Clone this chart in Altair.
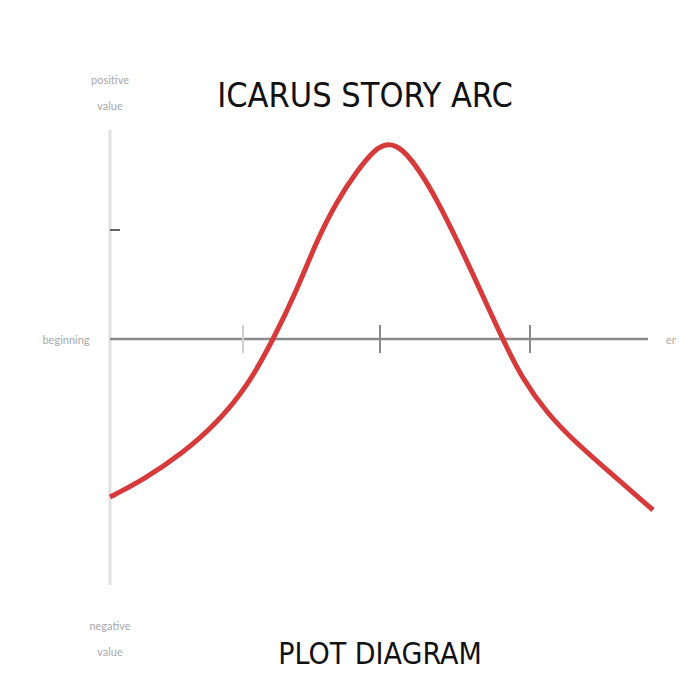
import altair as alt
import pandas as pd

# Curve (x: distance from vertical axis, y: height above the horizontal axis)
curve_x = [0, 33, 73, 107, 137, 163, 187, 207, 227, 247, 265, 278, 292, 310, 327, 347, 367, 393, 413, 437, 463, 497, 543]
curve_y = [-158, -141, -114, -84, -48, -1, 49, 99, 138, 168, 190, 196, 191, 168, 139, 99, 56, -1, -41, -74, -101, -131, -171]

# Axis ticks
xtick_pos = [133, 270, 420]
xtick_col = ["#d0d0d0", "#8a8a8a", "#8a8a8a"]
ytick_pos = [109]

# Text annotations
label_text = ["positive\nvalue", "negative\nvalue", "beginning", "end"]
label_x = [0, 0, -44, 556]
label_y = [258, -288, -2, -2]
label_align = ["center", "center", "center", "left"]

title_text = ["ICARUS STORY ARC", "PLOT DIAGRAM"]
title_x = [255, 270]
title_y = [242, -316]
title_size = [34, 30]

X = alt.Scale(domain=[0, 545])
Y = alt.Scale(domain=[-246, 209])

curve = pd.DataFrame({"x": curve_x, "y": curve_y})
xt = pd.DataFrame({"x": xtick_pos, "c": xtick_col, "y0": [-14] * 3, "y1": [14] * 3})
yt = pd.DataFrame({"y": ytick_pos, "x0": [0], "x1": [10]})
labels = pd.DataFrame({"t": label_text, "x": label_x, "y": label_y, "a": label_align})
titles = pd.DataFrame({"t": title_text, "x": title_x, "y": title_y, "s": title_size})
axes_h = pd.DataFrame({"x0": [0], "x1": [538], "y": [0]})
axes_v = pd.DataFrame({"x": [0], "y0": [-246], "y1": [209]})

vline = alt.Chart(axes_v).mark_rule(color="#e0e0e0", strokeWidth=3).encode(
    x=alt.X("x:Q", scale=X, axis=None), y=alt.Y("y0:Q", scale=Y, axis=None), y2="y1:Q")
hline = alt.Chart(axes_h).mark_rule(color="#8a8a8a", strokeWidth=2.5).encode(
    x=alt.X("x0:Q", scale=X, axis=None), x2="x1:Q", y=alt.Y("y:Q", scale=Y, axis=None))
xticks = alt.Chart(xt).mark_rule(strokeWidth=2).encode(
    x=alt.X("x:Q", scale=X, axis=None), y=alt.Y("y0:Q", scale=Y, axis=None), y2="y1:Q",
    color=alt.Color("c:N", scale=None))
yticks = alt.Chart(yt).mark_rule(color="#666666", strokeWidth=2).encode(
    x=alt.X("x0:Q", scale=X, axis=None), x2="x1:Q", y=alt.Y("y:Q", scale=Y, axis=None))
line = alt.Chart(curve).mark_line(color="#d63a3a", strokeWidth=5, interpolate="basis").encode(
    x=alt.X("x:Q", scale=X, axis=None), y=alt.Y("y:Q", scale=Y, axis=None))
lab_c = alt.Chart(labels[labels.a == "center"]).mark_text(
    font="Lato", fontSize=11, color="#a8a8a8", lineBreak="\n", baseline="middle", align="center",
    lineHeight=26).encode(
    x=alt.X("x:Q", scale=X, axis=None), y=alt.Y("y:Q", scale=Y, axis=None), text="t:N")
lab_l = alt.Chart(labels[labels.a == "left"]).mark_text(
    font="Lato", fontSize=11, color="#a8a8a8", baseline="middle", align="left").encode(
    x=alt.X("x:Q", scale=X, axis=None), y=alt.Y("y:Q", scale=Y, axis=None), text="t:N")
ttl = alt.Chart(titles).mark_text(font="DejaVu Sans Condensed, DejaVu Sans, sans-serif",
                                  color="#111111", baseline="middle", align="center").encode(
    x=alt.X("x:Q", scale=X, axis=None), y=alt.Y("y:Q", scale=Y, axis=None), text="t:N",
    size=alt.Size("s:Q", scale=None, legend=None))

chart = alt.layer(vline, hline, xticks, yticks, line, lab_c, lab_l, ttl).properties(
    width=545, height=455,
    autosize=alt.AutoSizeParams(type="none"),
    padding={"left": 102, "top": 122, "right": 21, "bottom": 86},
    background="white",
).configure_view(stroke=None)

chart.save("out.html", embed_options={"renderer": "svg", "actions": False})
